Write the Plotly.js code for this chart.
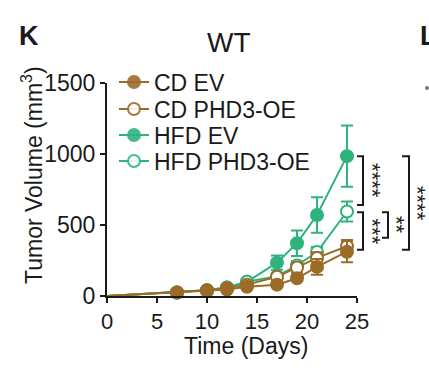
<!DOCTYPE html>
<html>
<head>
<meta charset="utf-8">
<script src="https://cdn.plot.ly/plotly-3.0.1.min.js"></script>
<style>
html,body{margin:0;padding:0;background:#fff;}
#chart{width:429px;height:369px;}
</style>
</head>
<body>
<div id="chart"></div>
<script>
// ---- data ----
const days = [0, 7, 10, 12, 14, 17, 19, 21, 24];
const seriesNames = ["CD EV", "CD PHD3-OE", "HFD EV", "HFD PHD3-OE"];
const cdEV      = [0, 25, 35, 45, 65, 80, 125, 205, 312];
const cdEVErr   = [null, 5, 8, 8, 10, 15, 20, 55, 75];
const cdOE      = [0, 25, 40, 55, 80, 135, 200, 268, 350];
const cdOEErr   = [null, 5, 8, 10, 12, 20, 35, 40, 45];
const hfdEV     = [0, 25, 40, 60, 100, 235, 372, 570, 985];
const hfdEVErr  = [null, 5, 8, 10, 15, 50, 90, 125, 215];
const hfdOE     = [0, 25, 40, 60, 100, 140, 215, 310, 595];
const hfdOEErr  = [null, 5, 8, 10, 15, 20, 30, 35, 70];
const xTicks = [0, 5, 10, 15, 20, 25];
const yTicks = [0, 500, 1000, 1500];
// significance comparisons: [yTop, yBottom, label]
const sigBrackets = [
  [985, 640, "****"],
  [590, 325, "***"],
  [590, 410, "**"],
  [985, 325, "****"]
];

const BROWN = "#9d6b28";
const GREEN = "#2eb37c";
const INK = "#1a1a1a";
const FONT = "Liberation Sans, Arial, sans-serif";

function mk(name, y, err, color, open, legendId) {
  return {
    type: "scatter", mode: "lines+markers", name: name, x: days, y: y,
    legend: legendId,
    cliponaxis: false,
    line: {color: color, width: 2},
    marker: {
      symbol: "circle", size: 12,
      color: open ? "#ffffff" : color,
      opacity: days.map(d => d === 0 ? 0 : 1),
      line: {color: color, width: 2}
    },
    error_y: {type: "data", array: err, visible: true, color: color, thickness: 2, width: 6}
  };
}

// drawn back to front: HFD first, CD EV on top
const traces = [
  mk(seriesNames[2], hfdEV, hfdEVErr, GREEN, false, "legend3"),
  mk(seriesNames[3], hfdOE, hfdOEErr, GREEN, true, "legend4"),
  mk(seriesNames[1], cdOE, cdOEErr, BROWN, true, "legend2"),
  mk(seriesNames[0], cdEV, cdEVErr, BROWN, false, "legend")
];

// plot area geometry (px)
const L = 107, R = 72, T = 83, B = 73;
const W = 429 - L - R, H = 369 - T - B;
const px = v => (v - L) / W;
const py = v => (369 - B - v) / H;

function legendAt(yPx) {
  return {x: px(114), xanchor: "left", y: py(yPx), yanchor: "middle",
          bgcolor: "rgba(0,0,0,0)", borderwidth: 0,
          font: {family: FONT, size: 23, color: INK}};
}

const bracketX = [[357, 363, 372.5], [357, 363, 372.5], [382, 388, 397], [402, 409, 417]];
const shapes = [];
const annotations = [];
sigBrackets.forEach((b, i) => {
  const [x0, x1, tx] = bracketX[i];
  shapes.push({
    type: "path", xref: "paper", yref: "y",
    path: `M${px(x0)},${b[0]} L${px(x1)},${b[0]} L${px(x1)},${b[1]} L${px(x0)},${b[1]}`,
    line: {color: INK, width: 2}
  });
  annotations.push({
    xref: "paper", yref: "y", x: px(tx), y: (b[0] + b[1]) / 2,
    text: b[2], textangle: 90, showarrow: false, xanchor: "center", yanchor: "middle",
    font: {family: FONT, size: 22, color: "#222222"}
  });
});
shapes.push({type: "circle", xref: "paper", yref: "paper",
  x0: px(425), x1: px(429), y0: py(90), y1: py(86),
  fillcolor: "#777", line: {width: 0}});

annotations.push(
  {xref: "paper", yref: "paper", x: px(17), y: py(36), xanchor: "left", yanchor: "middle",
   text: "<b>K</b>", showarrow: false, font: {family: FONT, size: 27, color: INK}},
  {xref: "paper", yref: "paper", x: px(418), y: py(36), xanchor: "left", yanchor: "middle",
   text: "<b>L</b>", showarrow: false, font: {family: FONT, size: 27, color: INK}},
  {xref: "paper", yref: "paper", x: px(229), y: py(43), xanchor: "center", yanchor: "middle",
   text: "WT", showarrow: false, font: {family: FONT, size: 28, color: INK}},
  {xref: "paper", yref: "paper", x: px(32), y: py(175), xanchor: "center", yanchor: "middle",
   text: "Tumor Volume (mm<sup>3</sup>)", textangle: -90, showarrow: false,
   font: {family: FONT, size: 23, color: INK}},
  {xref: "paper", yref: "paper", x: px(246), y: py(346), xanchor: "center", yanchor: "middle",
   text: "Time (Days)", showarrow: false, font: {family: FONT, size: 23, color: INK}}
);

const layout = {
  width: 429, height: 369,
  margin: {l: L, r: R, t: T, b: B, pad: 0},
  paper_bgcolor: "#ffffff", plot_bgcolor: "#ffffff",
  font: {family: FONT, color: INK},
  showlegend: true,
  legend: legendAt(82),
  legend2: legendAt(109),
  legend3: legendAt(135),
  legend4: legendAt(161),
  xaxis: {
    range: [0, 25], tickvals: xTicks, ticktext: xTicks.map(String),
    showgrid: false, zeroline: false, showline: true, linecolor: INK, linewidth: 2,
    ticks: "outside", ticklen: 5, tickwidth: 2, tickcolor: INK,
    tickfont: {family: FONT, size: 22, color: INK}, fixedrange: true
  },
  yaxis: {
    range: [0, 1500], tickvals: yTicks, ticktext: yTicks.map(String),
    showgrid: false, zeroline: false, showline: true, linecolor: INK, linewidth: 2,
    ticks: "outside", ticklen: 5, tickwidth: 2, tickcolor: INK,
    tickfont: {family: FONT, size: 23, color: INK}, fixedrange: true
  },
  shapes: shapes,
  annotations: annotations
};

Plotly.newPlot("chart", traces, layout, {staticPlot: true, displayModeBar: false});
</script>
</body>
</html>
